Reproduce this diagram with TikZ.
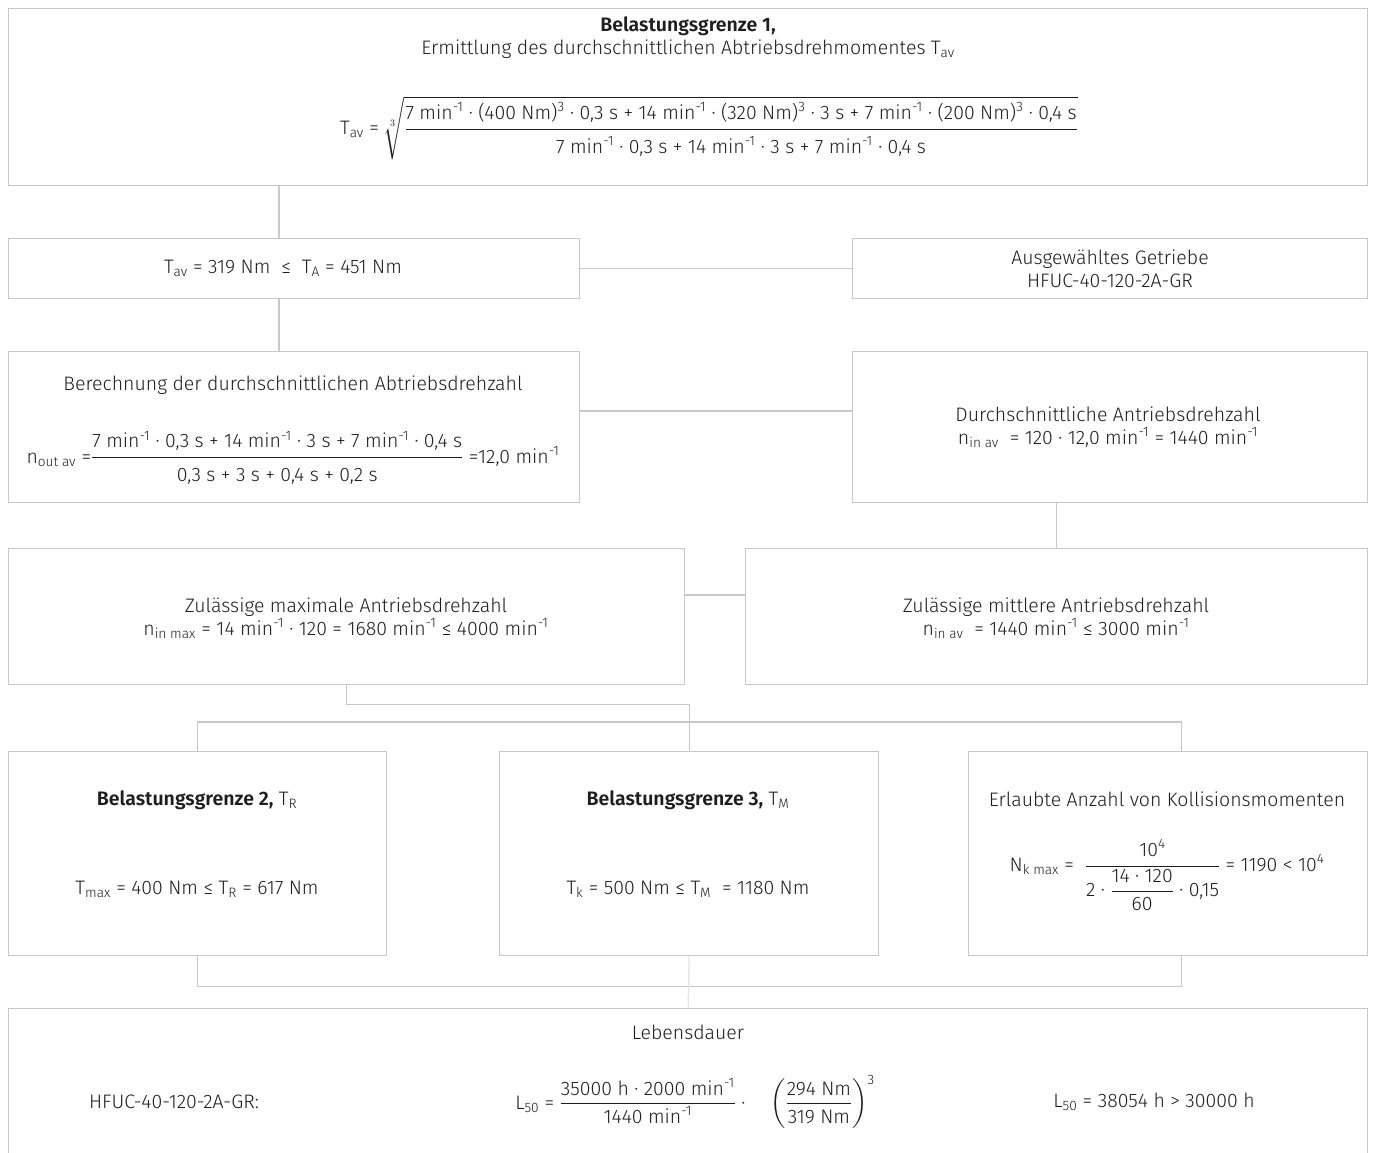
\documentclass[tikz,border=0pt]{standalone}
\usepackage{amsmath}
\usepackage{fontspec}
\setmainfont{Fira Sans}[UprightFont=* Light, BoldFont=* SemiBold]
\usepackage{tikz}
\usetikzlibrary{calc,positioning}
\definecolor{rahmen}{HTML}{C8C8C8}
\definecolor{hell}{HTML}{E4E4E4}
\definecolor{schrift}{HTML}{1E1E1E}
\newcommand{\tief}[1]{\textsubscript{#1}}
\newcommand{\hoch}[1]{\textsuperscript{#1}}
% Bruchteile mit etwas Luft
\newcommand{\oben}[1]{\text{\rule[-7pt]{0pt}{7pt}#1}}
\newcommand{\unten}[1]{\text{\rule{0pt}{21pt}#1}}

\begin{document}
\begin{tikzpicture}[x=1pt,y=-1pt,
    kasten/.style={draw=rahmen,line width=1.3pt,anchor=north west,inner sep=0pt},
    txt/.style={text=schrift,font=\fontsize{19.5}{23}\selectfont,inner sep=0pt,align=center},
    linie/.style={draw=rahmen,line width=1.3pt}]
  \useasboundingbox (0,0) rectangle (1373,1153);
  \clip (0,0) rectangle (1373,1153);

  % Kaesten
  \foreach \n/\x/\y/\w/\h in {kopf/8/8/1359/177, tav/8/238/571/60, getriebe/852/238/515/60,
      nout/8/351/571/151, nin/852/351/515/151, nmax/8/548/676/136, nmittel/745/548/622/136,
      bg2/8/751/378/204, bg3/499/751/379/204, koll/968/751/399/204, leben/8/1008/1359/190} {
    \node[kasten,minimum width=\w pt,minimum height=\h pt] (\n) at (\x,\y) {};
  }

  % Verbindungen
  \coordinate (links) at (279,0);
  \coordinate (verteiler) at ($(bg3.north)+(0,-29)$);
  \coordinate (sammler) at ($(bg3.south)+(0,30)$);
  \draw[linie] (links |- kopf.south) -- (links |- tav.north);
  \draw[linie] (links |- tav.south) -- (links |- nout.north);
  \draw[linie] (tav.east) -- (getriebe.west);
  \draw[linie] ([yshift=-60pt]nout.north east) -- ([yshift=-60pt]nin.north west);
  \draw[linie] (nin.south -| nmittel.north) -- (nmittel.north);
  \draw[linie] ([yshift=-47pt]nmax.north east) -- ([yshift=-47pt]nmittel.north west);
  \draw[linie] (nmax.south) -- ++(0,19) -| (verteiler);
  \draw[linie] (bg2.north) |- (verteiler) -| ([xshift=13pt]koll.north);
  \draw[linie] (verteiler) -- (bg3.north);
  \draw[linie] (bg2.south) |- (sammler) -| ([xshift=13pt]koll.south);
  \draw[hell,line width=1.3pt] (bg3.south) -- (leben.north);

  % Texte
  \node[txt] (t1) at (688,26) {\textbf{Belastungsgrenze 1,}};
  \node[txt] (t2) at (688,49) {Ermittlung des durchschnittlichen Abtriebsdrehmomentes T\tief{av}};
  \node[txt] (f1) at (709,128) {T\tief{av} = $\sqrt[3]{\dfrac{\oben{7 min\hoch{-1} · (400 Nm)\hoch{3} · 0,3 s + 14 min\hoch{-1} · (320 Nm)\hoch{3} · 3 s + 7 min\hoch{-1} · (200 Nm)\hoch{3} · 0,4 s}}{\unten{7 min\hoch{-1} · 0,3 s + 14 min\hoch{-1} · 3 s + 7 min\hoch{-1} · 0,4 s}}}$};
  \node[txt] (f2) at (283,268) {T\tief{av} = 319 Nm \ ≤ \ T\tief{A} = 451 Nm};
  \node[txt] (t3) at (1110,269) {Ausgewähltes Getriebe\\HFUC-40-120-2A-GR};
  \node[txt] (t4) at (293,385) {Berechnung der durchschnittlichen Abtriebsdrehzahl};
  \node[txt] (f3) at (293,458) {n\tief{out av} =$\dfrac{\oben{7 min\hoch{-1} · 0,3 s + 14 min\hoch{-1} · 3 s + 7 min\hoch{-1} · 0,4 s}}{\unten{0,3 s + 3 s + 0,4 s + 0,2 s}}$ =12,0 min\hoch{-1}};
  \node[txt] (t5) at (1108,427) {Durchschnittliche Antriebsdrehzahl\\n\tief{in av} \ = 120 · 12,0 min\hoch{-1} = 1440 min\hoch{-1}};
  \node[txt] (t6) at (346,618) {Zulässige maximale Antriebsdrehzahl\\n\tief{in max} = 14 min\hoch{-1} · 120 = 1680 min\hoch{-1} ≤ 4000 min\hoch{-1}};
  \node[txt] (t7) at (1056,618) {Zulässige mittlere Antriebsdrehzahl\\n\tief{in av} \ = 1440 min\hoch{-1} ≤ 3000 min\hoch{-1}};
  \node[txt] (t8) at (197,800) {\textbf{Belastungsgrenze 2,} T\tief{R}};
  \node[txt] (f4) at (197,889) {T\tief{max} = 400 Nm ≤ T\tief{R} = 617 Nm};
  \node[txt] (t9) at (688,800) {\textbf{Belastungsgrenze 3,} T\tief{M}};
  \node[txt] (f5) at (688,889) {T\tief{k} = 500 Nm ≤ T\tief{M} \ = 1180 Nm};
  \node[txt] (t10) at (1167,799) {Erlaubte Anzahl von Kollisionsmomenten};
  \node[txt] (f6) at (1167,875) {N\tief{k max} = \ $\dfrac{\oben{10\hoch{4}}}{\text{2 · }\dfrac{\text{14 · 120}}{\text{60}}\text{ · 0,15}}$ = 1190 < 10\hoch{4}};
  \node[txt] (t11) at (688,1032) {Lebensdauer};
  \node[txt] (t12) at (174,1102) {HFUC-40-120-2A-GR:};
  \node[txt] (f7) at (695,1102) {L\tief{50} = $\dfrac{\text{35000 h · 2000 min\hoch{-1}}}{\text{1440 min\hoch{-1}}}$ · \quad$\left(\dfrac{\text{294 Nm}}{\text{319 Nm}}\right)^{\text{3}}$};
  \node[txt] (f8) at (1154,1102) {L\tief{50} = 38054 h > 30000 h};
\end{tikzpicture}
\end{document}
